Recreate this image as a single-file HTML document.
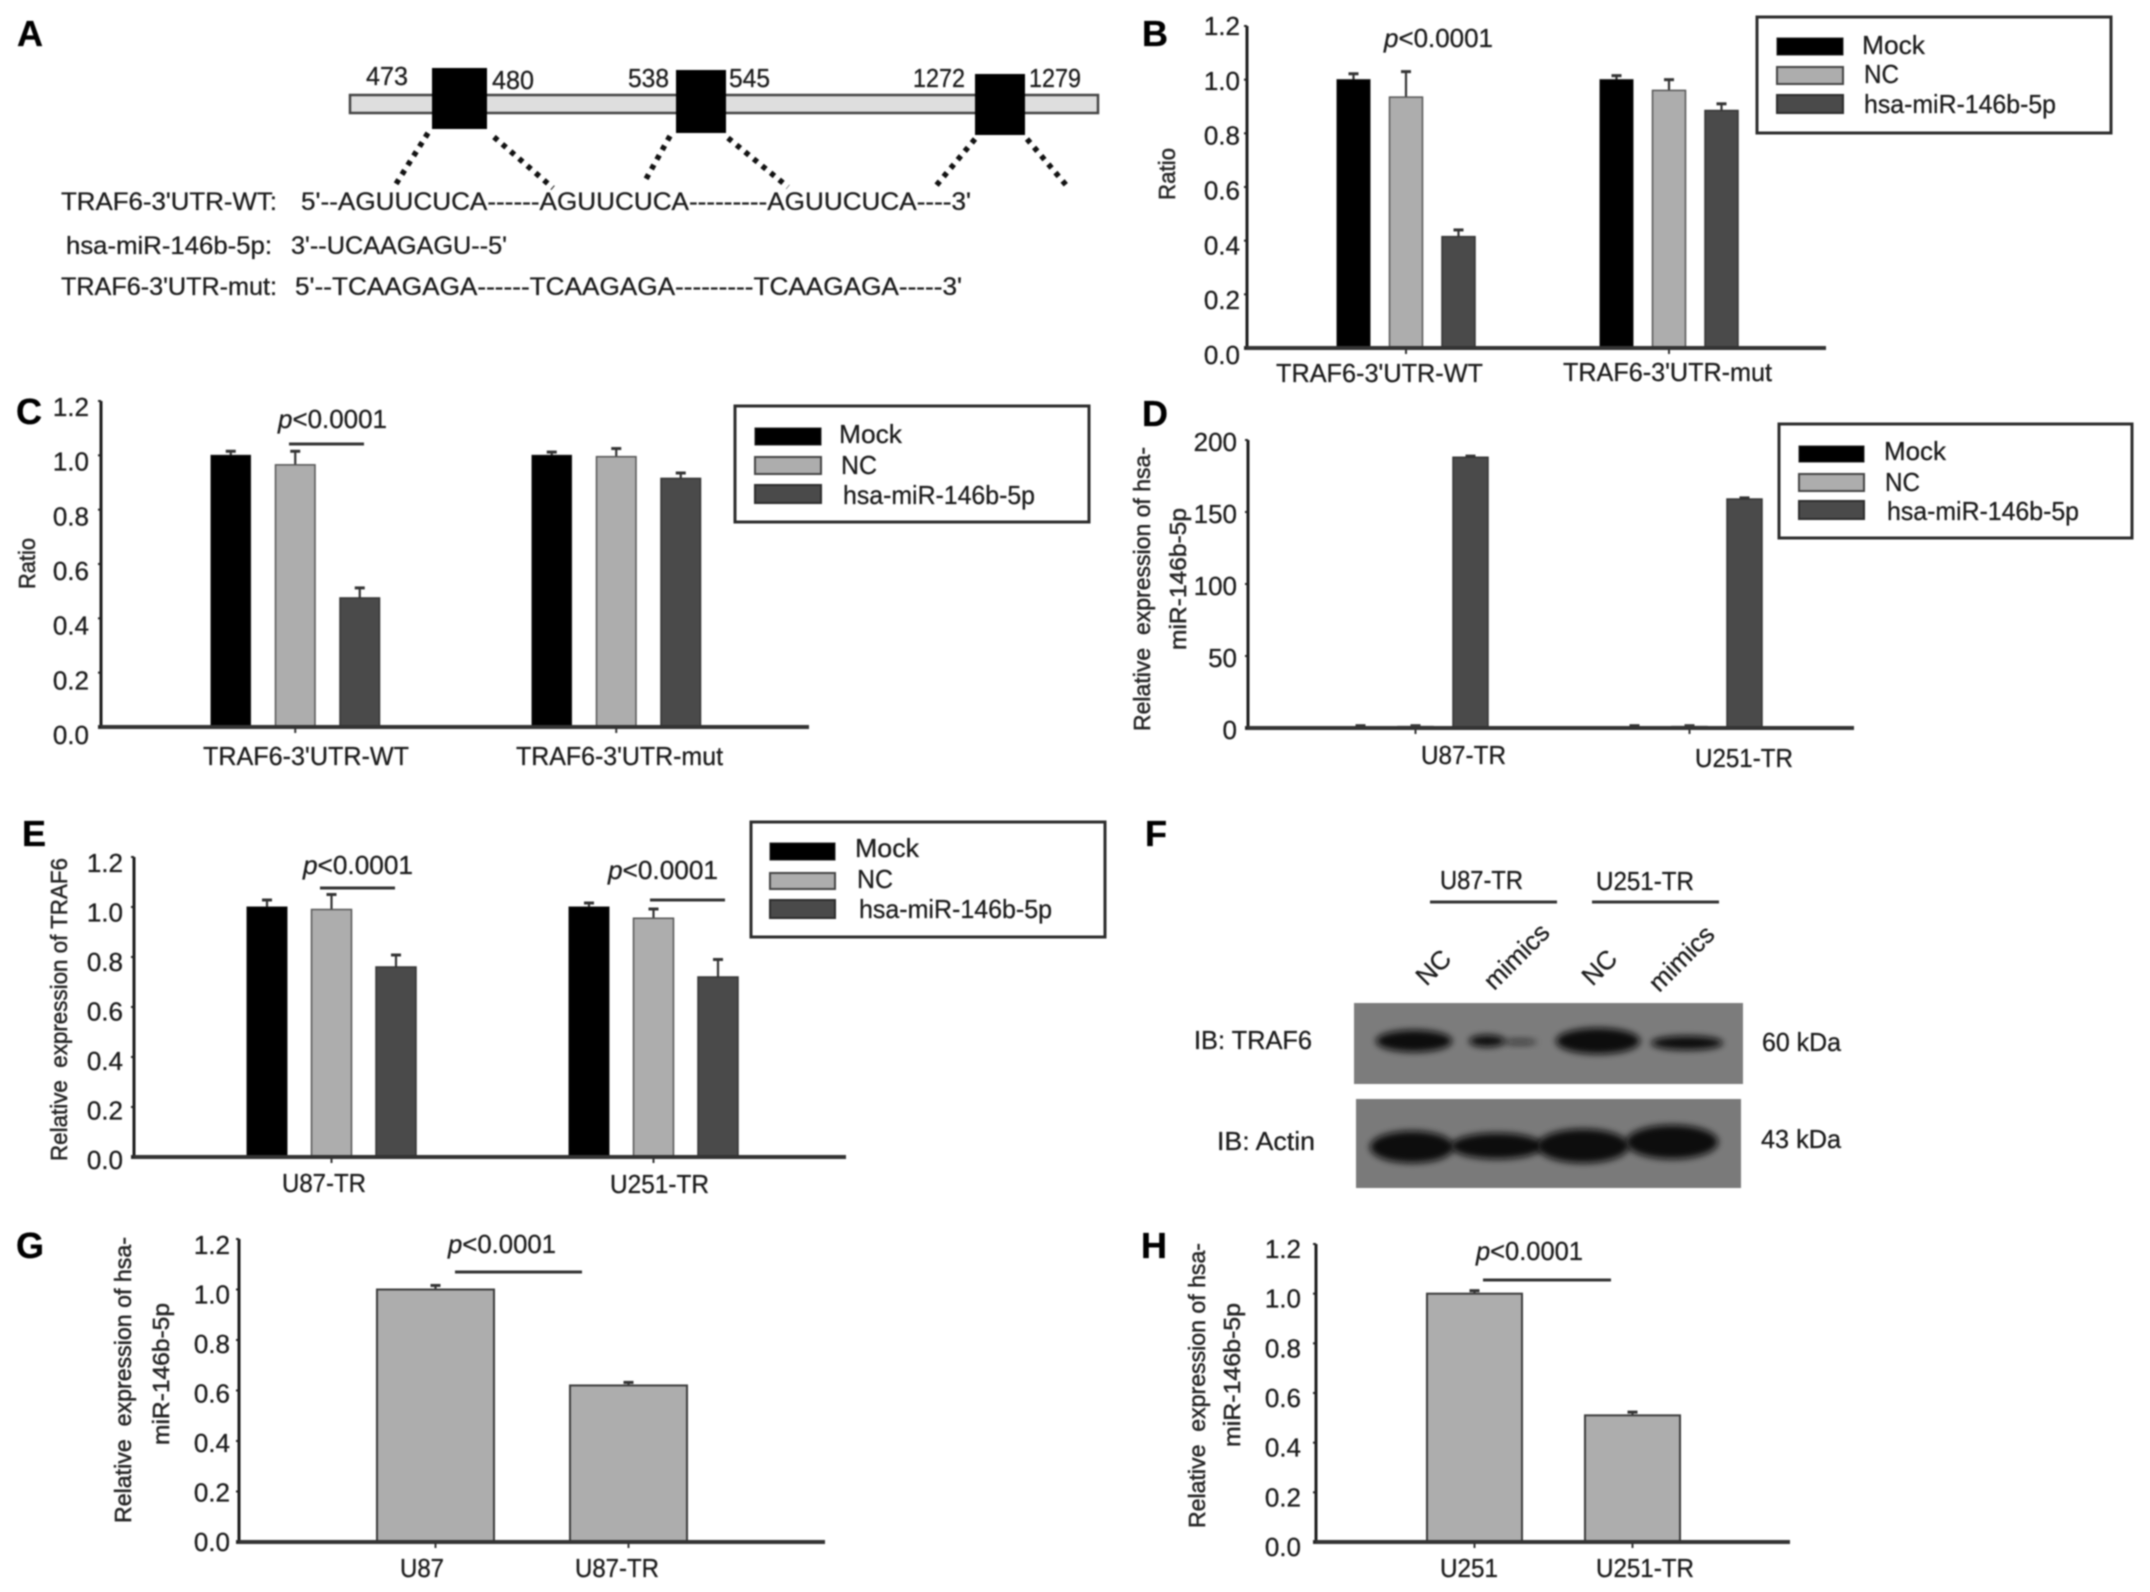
<!DOCTYPE html>
<html lang="en">
<head>
<meta charset="utf-8">
<title>TRAF6 and hsa-miR-146b-5p figure</title>
<style>
html,body{margin:0;padding:0;background:#fff;}
svg{display:block;filter:blur(0.9px);}
text{font-family:"Liberation Sans",sans-serif;fill:#1c1c1c;stroke:#1c1c1c;stroke-width:0.3;font-size:26px;}
.letter{font-size:36px;font-weight:bold;fill:#000;stroke:#000;}
.seq{font-size:25px;}
.title{font-size:23px;fill:#262626;stroke:#262626;stroke-width:0.5;}
.leg{fill:#fff;stroke:#2c2c2c;stroke-width:3;}
.sw1{fill:#000;stroke:#222;stroke-width:1;}
.sw2{fill:#adadad;stroke:#444;stroke-width:2;}
.sw3{fill:#4a4a4a;stroke:#2c2c2c;stroke-width:2;}
.sig{stroke:#333;stroke-width:3;fill:none;}
.dots{stroke:#111;stroke-width:5.5;stroke-dasharray:5 6;fill:none;}
.band{fill:#0a0a0a;filter:url(#band-blur);}
</style>
</head>
<body>
<svg xmlns="http://www.w3.org/2000/svg" width="2150" height="1592" viewBox="0 0 2150 1592">
<defs>
<filter id="band-blur" x="-30%" y="-80%" width="160%" height="260%"><feGaussianBlur stdDeviation="3.5"></feGaussianBlur></filter>
</defs>
<rect width="2150" height="1592" fill="#fff"></rect>

<!-- Panel A -->
<g>
<text class="letter" x="17" y="46">A</text>
<rect x="350" y="95" width="748" height="18" fill="#dedede" stroke="#444" stroke-width="2.5"></rect>
<rect x="432" y="68" width="55" height="61" fill="#000"></rect>
<rect x="676" y="70" width="50" height="63" fill="#000"></rect>
<rect x="975" y="74" width="50" height="61" fill="#000"></rect>
<text x="366" y="85" textLength="42" lengthAdjust="spacingAndGlyphs">473</text>
<text x="492" y="89" textLength="42" lengthAdjust="spacingAndGlyphs">480</text>
<text x="628" y="87" textLength="41" lengthAdjust="spacingAndGlyphs">538</text>
<text x="729" y="87" textLength="41" lengthAdjust="spacingAndGlyphs">545</text>
<text x="913" y="87" textLength="52" lengthAdjust="spacingAndGlyphs">1272</text>
<text x="1029" y="87" textLength="52" lengthAdjust="spacingAndGlyphs">1279</text>
<line class="dots" x1="428" y1="133" x2="396" y2="184"></line>
<line class="dots" x1="494" y1="137" x2="553" y2="188"></line>
<line class="dots" x1="670" y1="136" x2="646" y2="179"></line>
<line class="dots" x1="728" y1="138" x2="788" y2="187"></line>
<line class="dots" x1="975" y1="139" x2="935" y2="187"></line>
<line class="dots" x1="1027" y1="139" x2="1066" y2="185"></line>
<text class="seq" x="61" y="210" textLength="216" lengthAdjust="spacingAndGlyphs">TRAF6-3'UTR-WT:</text>
<text class="seq" x="301" y="210" textLength="670" lengthAdjust="spacingAndGlyphs">5'--AGUUCUCA------AGUUCUCA---------AGUUCUCA----3'</text>
<text class="seq" x="66" y="254" textLength="206" lengthAdjust="spacingAndGlyphs">hsa-miR-146b-5p:</text>
<text class="seq" x="291" y="254" textLength="216" lengthAdjust="spacingAndGlyphs">3'--UCAAGAGU--5'</text>
<text class="seq" x="61" y="295" textLength="216" lengthAdjust="spacingAndGlyphs">TRAF6-3'UTR-mut:</text>
<text class="seq" x="295" y="295" textLength="667" lengthAdjust="spacingAndGlyphs">5'--TCAAGAGA------TCAAGAGA---------TCAAGAGA-----3'</text>
</g>

<!-- Panel B -->
<g>
<text class="letter" x="1142" y="46">B</text>
<g id="chart-b"></g>
<text class="title" transform="translate(1175 200) rotate(-90)" textLength="52" lengthAdjust="spacingAndGlyphs">Ratio</text>
<text x="1276" y="382" textLength="207" lengthAdjust="spacingAndGlyphs">TRAF6-3'UTR-WT</text>
<text x="1563" y="381" textLength="209" lengthAdjust="spacingAndGlyphs">TRAF6-3'UTR-mut</text>
<text x="1384" y="47" textLength="109" lengthAdjust="spacingAndGlyphs"><tspan font-style="italic">p</tspan>&lt;0.0001</text>
<g>
<rect class="leg" x="1757" y="17" width="354" height="116"></rect>
<rect class="sw1" x="1777" y="38" width="66" height="17"></rect>
<rect class="sw2" x="1777" y="67" width="66" height="17"></rect>
<rect class="sw3" x="1777" y="95" width="66" height="18"></rect>
<text x="1862" y="54" textLength="63" lengthAdjust="spacingAndGlyphs">Mock</text>
<text x="1864" y="83" textLength="35" lengthAdjust="spacingAndGlyphs">NC</text>
<text x="1864" y="113" textLength="192" lengthAdjust="spacingAndGlyphs">hsa-miR-146b-5p</text>
</g>
</g>

<!-- Panel C -->
<g>
<text class="letter" x="16" y="424">C</text>
<g id="chart-c"></g>
<text class="title" transform="translate(35 589) rotate(-90)" textLength="51" lengthAdjust="spacingAndGlyphs">Ratio</text>
<text x="203" y="765" textLength="206" lengthAdjust="spacingAndGlyphs">TRAF6-3'UTR-WT</text>
<text x="516" y="765" textLength="207" lengthAdjust="spacingAndGlyphs">TRAF6-3'UTR-mut</text>
<text x="278" y="428" textLength="109" lengthAdjust="spacingAndGlyphs"><tspan font-style="italic">p</tspan>&lt;0.0001</text>
<line class="sig" x1="289" y1="444" x2="364" y2="444"></line>
<g>
<rect class="leg" x="735" y="406" width="354" height="116"></rect>
<rect class="sw1" x="755" y="428" width="66" height="17"></rect>
<rect class="sw2" x="755" y="457" width="66" height="17"></rect>
<rect class="sw3" x="755" y="485" width="66" height="18"></rect>
<text x="839" y="443" textLength="63" lengthAdjust="spacingAndGlyphs">Mock</text>
<text x="841" y="474" textLength="36" lengthAdjust="spacingAndGlyphs">NC</text>
<text x="843" y="504" textLength="192" lengthAdjust="spacingAndGlyphs">hsa-miR-146b-5p</text>
</g>
</g>

<!-- Panel D -->
<g>
<text class="letter" x="1142" y="426">D</text>
<g id="chart-d"></g>
<text class="title" transform="translate(1150 731) rotate(-90)" textLength="284" lengthAdjust="spacingAndGlyphs">Relative&#160; expression of hsa-</text>
<text class="title" transform="translate(1186 650) rotate(-90)" textLength="142" lengthAdjust="spacingAndGlyphs">miR-146b-5p</text>
<text x="1421" y="764" textLength="85" lengthAdjust="spacingAndGlyphs">U87-TR</text>
<text x="1695" y="767" textLength="98" lengthAdjust="spacingAndGlyphs">U251-TR</text>
<g>
<rect class="leg" x="1779" y="424" width="353" height="114"></rect>
<rect class="sw1" x="1799" y="446" width="65" height="16"></rect>
<rect class="sw2" x="1799" y="474" width="65" height="17"></rect>
<rect class="sw3" x="1799" y="501" width="65" height="18"></rect>
<text x="1884" y="460" textLength="62" lengthAdjust="spacingAndGlyphs">Mock</text>
<text x="1885" y="491" textLength="35" lengthAdjust="spacingAndGlyphs">NC</text>
<text x="1887" y="520" textLength="192" lengthAdjust="spacingAndGlyphs">hsa-miR-146b-5p</text>
</g>
</g>

<!-- Panel E -->
<g>
<text class="letter" x="22" y="846">E</text>
<g id="chart-e"></g>
<text class="title" transform="translate(67 1161) rotate(-90)" textLength="303" lengthAdjust="spacingAndGlyphs">Relative&#160; expression of TRAF6</text>
<text x="282" y="1192" textLength="84" lengthAdjust="spacingAndGlyphs">U87-TR</text>
<text x="610" y="1193" textLength="99" lengthAdjust="spacingAndGlyphs">U251-TR</text>
<text x="303" y="874" textLength="110" lengthAdjust="spacingAndGlyphs"><tspan font-style="italic">p</tspan>&lt;0.0001</text>
<line class="sig" x1="320" y1="888" x2="395" y2="888"></line>
<text x="608" y="879" textLength="110" lengthAdjust="spacingAndGlyphs"><tspan font-style="italic">p</tspan>&lt;0.0001</text>
<line class="sig" x1="650" y1="900" x2="725" y2="900"></line>
<g>
<rect class="leg" x="751" y="822" width="354" height="115"></rect>
<rect class="sw1" x="770" y="843" width="65" height="17"></rect>
<rect class="sw2" x="770" y="873" width="65" height="16"></rect>
<rect class="sw3" x="770" y="900" width="65" height="18"></rect>
<text x="855" y="857" textLength="64" lengthAdjust="spacingAndGlyphs">Mock</text>
<text x="857" y="888" textLength="36" lengthAdjust="spacingAndGlyphs">NC</text>
<text x="859" y="918" textLength="193" lengthAdjust="spacingAndGlyphs">hsa-miR-146b-5p</text>
</g>
</g>

<!-- Panel F -->
<g>
<text class="letter" x="1145" y="846">F</text>
<text x="1440" y="889" textLength="83" lengthAdjust="spacingAndGlyphs">U87-TR</text>
<text x="1596" y="890" textLength="98" lengthAdjust="spacingAndGlyphs">U251-TR</text>
<line class="sig" x1="1430" y1="902" x2="1557" y2="902"></line>
<line class="sig" x1="1592" y1="902" x2="1719" y2="902"></line>
<text text-anchor="middle" transform="translate(1434 968) rotate(-45) translate(0 8)">NC</text>
<text text-anchor="middle" transform="translate(1517 957) rotate(-45) translate(0 8)">mimics</text>
<text text-anchor="middle" transform="translate(1600 968) rotate(-45) translate(0 8)">NC</text>
<text text-anchor="middle" transform="translate(1682 959) rotate(-45) translate(0 8)">mimics</text>
<rect x="1354" y="1003" width="389" height="81" fill="#7c7c7c"></rect>
<g>
<ellipse class="band" cx="1414" cy="1041" rx="38" ry="11"></ellipse>
<ellipse class="band" cx="1487" cy="1041" rx="18" ry="6"></ellipse>
<ellipse class="band" cx="1520" cy="1042" rx="17" ry="3" opacity="0.6"></ellipse>
<ellipse class="band" cx="1598" cy="1041" rx="42" ry="13"></ellipse>
<ellipse class="band" cx="1687" cy="1043" rx="36" ry="7"></ellipse>
</g>
<rect x="1356" y="1099" width="385" height="89" fill="#7a7a7a"></rect>
<g>
<ellipse class="band" cx="1412" cy="1147" rx="42" ry="16"></ellipse>
<ellipse class="band" cx="1497" cy="1146" rx="46" ry="13"></ellipse>
<ellipse class="band" cx="1583" cy="1146" rx="46" ry="17"></ellipse>
<ellipse class="band" cx="1672" cy="1142" rx="46" ry="17"></ellipse>
</g>
<text x="1194" y="1049" textLength="118" lengthAdjust="spacingAndGlyphs">IB: TRAF6</text>
<text x="1217" y="1150" textLength="98" lengthAdjust="spacingAndGlyphs">IB: Actin</text>
<text x="1762" y="1051" textLength="79" lengthAdjust="spacingAndGlyphs">60 kDa</text>
<text x="1761" y="1148" textLength="80" lengthAdjust="spacingAndGlyphs">43 kDa</text>
</g>

<!-- Panel G -->
<g>
<text class="letter" x="16" y="1258">G</text>
<g id="chart-g"></g>
<text class="title" transform="translate(131 1523) rotate(-90)" textLength="286" lengthAdjust="spacingAndGlyphs">Relative&#160; expression of hsa-</text>
<text class="title" transform="translate(169 1445) rotate(-90)" textLength="142" lengthAdjust="spacingAndGlyphs">miR-146b-5p</text>
<text x="400" y="1577" textLength="44" lengthAdjust="spacingAndGlyphs">U87</text>
<text x="575" y="1577" textLength="84" lengthAdjust="spacingAndGlyphs">U87-TR</text>
<text x="448" y="1253" textLength="108" lengthAdjust="spacingAndGlyphs"><tspan font-style="italic">p</tspan>&lt;0.0001</text>
<line class="sig" x1="455" y1="1272" x2="582" y2="1272"></line>
</g>

<!-- Panel H -->
<g>
<text class="letter" x="1141" y="1258">H</text>
<g id="chart-h"></g>
<text class="title" transform="translate(1205 1528) rotate(-90)" textLength="285" lengthAdjust="spacingAndGlyphs">Relative&#160; expression of hsa-</text>
<text class="title" transform="translate(1240 1447) rotate(-90)" textLength="144" lengthAdjust="spacingAndGlyphs">miR-146b-5p</text>
<text x="1440" y="1577" textLength="58" lengthAdjust="spacingAndGlyphs">U251</text>
<text x="1596" y="1577" textLength="98" lengthAdjust="spacingAndGlyphs">U251-TR</text>
<text x="1476" y="1260" textLength="107" lengthAdjust="spacingAndGlyphs"><tspan font-style="italic">p</tspan>&lt;0.0001</text>
<line class="sig" x1="1483" y1="1280" x2="1611" y2="1280"></line>
</g>
</svg>

<script>
// Shared tick labels
const ratioTickLabels = ['0.0', '0.2', '0.4', '0.6', '0.8', '1.0', '1.2'];
const expressionTickLabels = ['0', '50', '100', '150', '200'];

// Panel B: luciferase ratio
const panelBCategories = ['wt', 'mut'];
const panelBMock = [1.0, 1.0];
const panelBMockErr = [0.022, 0.015];
const panelBNC = [0.935, 0.96];
const panelBNCErr = [0.095, 0.04];
const panelBMir = [0.415, 0.885];
const panelBMirErr = [0.025, 0.025];

// Panel C: luciferase ratio
const panelCCategories = ['wt', 'mut'];
const panelCMock = [1.0, 1.0];
const panelCMockErr = [0.015, 0.012];
const panelCNC = [0.965, 0.995];
const panelCNCErr = [0.05, 0.03];
const panelCMir = [0.475, 0.915];
const panelCMirErr = [0.037, 0.02];

// Panel D: miRNA expression
const panelDCategories = ['u87-tr', 'u251-tr'];
const panelDMock = [1, 1];
const panelDMockErr = [0.6, 0.6];
const panelDNC = [1, 1];
const panelDNCErr = [0.6, 0.6];
const panelDMir = [188, 159];
const panelDMirErr = [0.8, 0.8];

// Panel E: TRAF6 expression
const panelECategories = ['u87-tr', 'u251-tr'];
const panelEMock = [1.0, 1.0];
const panelEMockErr = [0.028, 0.016];
const panelENC = [0.99, 0.955];
const panelENCErr = [0.06, 0.037];
const panelEMir = [0.76, 0.72];
const panelEMirErr = [0.048, 0.07];

// Panel G: U87 versus U87-TR
const panelGCategories = ['u87', 'u87-tr'];
const panelGValues = [1.0, 0.62];
const panelGErr = [0.016, 0.012];

// Panel H: U251 versus U251-TR
const panelHCategories = ['u251', 'u251-tr'];
const panelHValues = [1.0, 0.51];
const panelHErr = [0.012, 0.013];

const SVG_NS = 'http://www.w3.org/2000/svg';
const seriesStyles = {
  mock: { fill: '#000', stroke: '#111', sw: 1 },
  nc: { fill: '#adadad', stroke: '#555', sw: 1.5 },
  mir: { fill: '#4a4a4a', stroke: '#333', sw: 1.5 },
  single: { fill: '#adadad', stroke: '#3c3c3c', sw: 2 }
};

function makeLine(parent, x1, y1, x2, y2, stroke, width, name) {
  const el = document.createElementNS(SVG_NS, 'line');
  el.setAttribute('x1', x1);
  el.setAttribute('y1', y1);
  el.setAttribute('x2', x2);
  el.setAttribute('y2', y2);
  el.setAttribute('stroke', stroke);
  el.setAttribute('stroke-width', width);
  
  
  parent.appendChild(el);
  return el;
}

function drawChart(cfg) {
  const root = document.getElementById(cfg.id);
  const yScale = function (v) { return cfg.yZero - (v / cfg.yMax) * (cfg.yZero - cfg.yTop); };
  const xScale = function (g, s) { return cfg.barLeft + g * cfg.groupStep + s * cfg.seriesStep; };

  cfg.series.forEach(function (ser, s) {
    const style = seriesStyles[ser.kind];
    ser.values.forEach(function (v, g) {
      const left = xScale(g, s);
      const mid = left + cfg.barWidth / 2;
      const errTop = yScale(v + ser.errors[g]);
      makeLine(root, mid, yScale(v), mid, errTop, '#333', 2.2, 'error-bar-' + cfg.id + '-' + cfg.categories[g] + '-' + ser.kind);
      makeLine(root, mid - 5, errTop, mid + 5, errTop, '#333', 3, 'error-cap-' + cfg.id + '-' + cfg.categories[g] + '-' + ser.kind);
      const bar = document.createElementNS(SVG_NS, 'rect');
      bar.setAttribute('x', left);
      bar.setAttribute('y', yScale(v));
      bar.setAttribute('width', cfg.barWidth);
      bar.setAttribute('height', cfg.yZero - yScale(v));
      bar.setAttribute('fill', style.fill);
      bar.setAttribute('stroke', style.stroke);
      bar.setAttribute('stroke-width', style.sw);
      
      
      root.appendChild(bar);
    });
  });

  makeLine(root, cfg.axisX, cfg.yTop, cfg.axisX, cfg.yZero, '#1c1c1c', 3, 'y-axis-' + cfg.id);
  makeLine(root, cfg.axisX - 3, cfg.yZero, cfg.xEnd, cfg.yZero, '#333', 4, 'x-axis-' + cfg.id);

  cfg.categories.forEach(function (c, g) {
    const first = xScale(g, 0);
    const last = xScale(g, cfg.series.length - 1) + cfg.barWidth;
    const tx = (first + last) / 2;
    makeLine(root, tx, cfg.yZero, tx, cfg.yZero + 6, '#333', 2, 'x-tick-' + cfg.id + '-' + c);
  });

  cfg.tickLabels.forEach(function (label) {
    const v = parseFloat(label);
    const ty = yScale(v);
    makeLine(root, cfg.axisX - 3, ty, cfg.axisX, ty, '#222', 2, 'y-tick-' + cfg.id + '-' + label);
    const t = document.createElementNS(SVG_NS, 'text');
    const frac = v / cfg.yMax;
    t.setAttribute('x', cfg.labelRight);
    t.setAttribute('y', ty + 9 + cfg.dyZero + (cfg.dyTop - cfg.dyZero) * frac);
    t.setAttribute('text-anchor', 'end');
    
    
    t.textContent = label;
    root.appendChild(t);
  });
}

drawChart({
  id: 'chart-b', categories: panelBCategories, tickLabels: ratioTickLabels, yMax: 1.2,
  axisX: 1247, yTop: 26, yZero: 348, xEnd: 1826, labelRight: 1240, dyZero: 7, dyTop: 0,
  barLeft: 1337, groupStep: 263, seriesStep: 52.5, barWidth: 33,
  series: [
    { kind: 'mock', values: panelBMock, errors: panelBMockErr },
    { kind: 'nc', values: panelBNC, errors: panelBNCErr },
    { kind: 'mir', values: panelBMir, errors: panelBMirErr }
  ]
});

drawChart({
  id: 'chart-c', categories: panelCCategories, tickLabels: ratioTickLabels, yMax: 1.2,
  axisX: 101, yTop: 401, yZero: 727, xEnd: 809, labelRight: 89, dyZero: 8, dyTop: 6,
  barLeft: 211, groupStep: 321, seriesStep: 64.5, barWidth: 39.5,
  series: [
    { kind: 'mock', values: panelCMock, errors: panelCMockErr },
    { kind: 'nc', values: panelCNC, errors: panelCNCErr },
    { kind: 'mir', values: panelCMir, errors: panelCMirErr }
  ]
});

drawChart({
  id: 'chart-d', categories: panelDCategories, tickLabels: expressionTickLabels, yMax: 200,
  axisX: 1248, yTop: 440, yZero: 728, xEnd: 1854, labelRight: 1237, dyZero: 2, dyTop: 2,
  barLeft: 1343, groupStep: 274, seriesStep: 55, barWidth: 35,
  series: [
    { kind: 'mock', values: panelDMock, errors: panelDMockErr },
    { kind: 'nc', values: panelDNC, errors: panelDNCErr },
    { kind: 'mir', values: panelDMir, errors: panelDMirErr }
  ]
});

drawChart({
  id: 'chart-e', categories: panelECategories, tickLabels: ratioTickLabels, yMax: 1.2,
  axisX: 134, yTop: 857, yZero: 1157, xEnd: 846, labelRight: 123, dyZero: 3, dyTop: 6,
  barLeft: 247, groupStep: 322, seriesStep: 64.5, barWidth: 40,
  series: [
    { kind: 'mock', values: panelEMock, errors: panelEMockErr },
    { kind: 'nc', values: panelENC, errors: panelENCErr },
    { kind: 'mir', values: panelEMir, errors: panelEMirErr }
  ]
});

drawChart({
  id: 'chart-g', categories: panelGCategories, tickLabels: ratioTickLabels, yMax: 1.2,
  axisX: 239, yTop: 1239, yZero: 1542, xEnd: 825, labelRight: 230, dyZero: 0, dyTop: 6,
  barLeft: 377, groupStep: 193, seriesStep: 0, barWidth: 117,
  series: [
    { kind: 'single', values: panelGValues, errors: panelGErr }
  ]
});

drawChart({
  id: 'chart-h', categories: panelHCategories, tickLabels: ratioTickLabels, yMax: 1.2,
  axisX: 1316, yTop: 1244, yZero: 1542, xEnd: 1790, labelRight: 1301, dyZero: 5, dyTop: 5,
  barLeft: 1427, groupStep: 158, seriesStep: 0, barWidth: 95,
  series: [
    { kind: 'single', values: panelHValues, errors: panelHErr }
  ]
});
</script>
</body>
</html>
